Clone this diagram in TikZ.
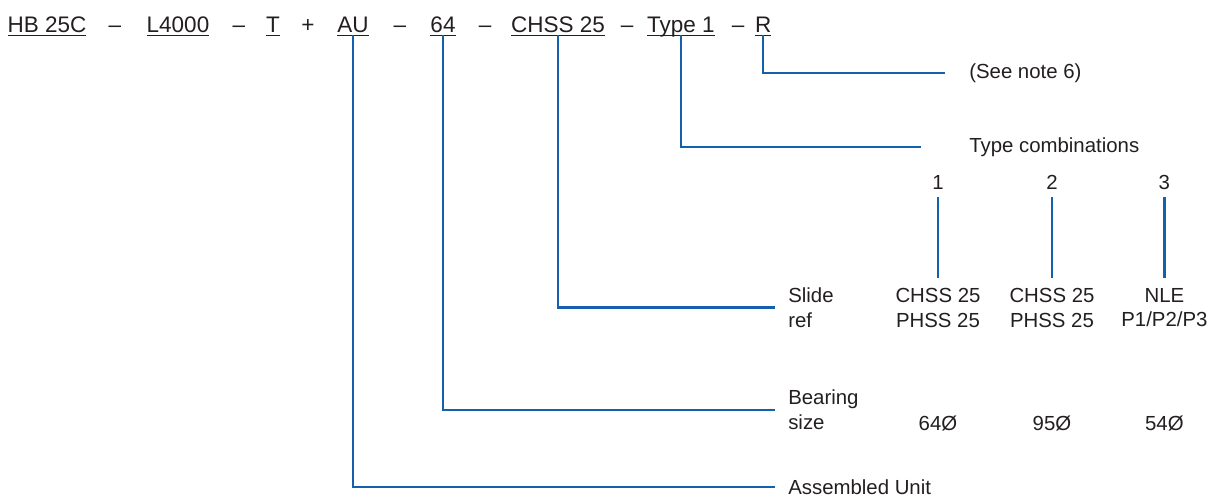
\documentclass[tikz,border=0pt]{standalone}
\usepackage{fontspec}
\setmainfont{Liberation Sans}
\usepackage{xcolor}
\usepackage{tikz}
\usetikzlibrary{calc}
\definecolor{leadblue}{HTML}{1560AC}
\definecolor{ink}{HTML}{231F20}
\tikzset{
  codepart/.style={anchor=base, inner sep=0pt, outer xsep=0pt, outer ysep=0.05cm,
    text depth=0pt, text=ink, font=\fontsize{16}{19}\selectfont},
  sep/.style={anchor=base, inner sep=0pt, text=ink, font=\fontsize{16}{19}\selectfont},
  keylabel/.style={anchor=west, inner sep=0pt, align=left, text=ink,
    font=\fontsize{14.5}{17.7}\selectfont},
  cell/.style={inner sep=0pt, align=center, text=ink, font=\fontsize{14.5}{17.7}\selectfont},
  uline/.style={draw=ink, line width=0.6pt},
  lead/.style={draw=leadblue, line width=1.6pt},
  tick/.style={lead, shorten <=0.2cm, shorten >=0.25cm},
}

\begin{document}
\begin{tikzpicture}
  \useasboundingbox (0,0) rectangle (30.45,-12.425);

  % code string
  \node[codepart] (hb)   at (1.175,-0.825)  {HB 25C};
  \node[sep]             at (2.875,-0.825)  {–};
  \node[codepart] (len)  at (4.45,-0.825)   {L4000};
  \node[sep]             at (5.975,-0.825)  {–};
  \node[codepart] (t)    at (6.825,-0.825)  {T};
  \node[sep]             at (7.7,-0.825)    {+};
  \node[codepart] (au)   at (8.825,-0.825)  {AU};
  \node[sep]             at (10.0,-0.825)   {–};
  \node[codepart] (bore) at (11.075,-0.825) {64};
  \node[sep]             at (12.125,-0.825) {–};
  \node[codepart] (chss) at (13.95,-0.825)  {CHSS 25};
  \node[sep]             at (15.675,-0.825) {–};
  \node[codepart] (typ)  at (17.02,-0.825)  {Type 1};
  \node[sep]             at (18.45,-0.825)  {–};
  \node[codepart] (r)    at (19.08,-0.825)  {R};

  \draw[uline] (hb.south west) -- (hb.south east);
  \draw[uline] (len.south west) -- (len.south east);
  \draw[uline] (t.south west) -- (t.south east);
  \draw[uline] (au.south west) -- (au.south east);
  \draw[uline] (bore.south west) -- (bore.south east);
  \draw[uline] (chss.south west) -- (chss.south east);
  \draw[uline] (typ.south west) -- (typ.south east);
  \draw[uline] (r.south west) -- (r.south east);

  % keys on the right
  \node[keylabel] (note)    at (24.225,-1.825) {(See note 6)};
  \node[keylabel] (combo)   at (24.225,-3.675) {Type combinations};
  \node[keylabel] (slide)   at (19.7,-7.69)    {Slide\\ref};
  \node[keylabel] (bearing) at (19.7,-10.25)   {Bearing\\size};
  \node[keylabel] (unit)    at (19.7,-12.175)  {Assembled Unit};

  \node[cell] (n1) at (23.45,-4.55) {1};
  \node[cell] (n2) at (26.3,-4.55)  {2};
  \node[cell] (n3) at (29.11,-4.55) {3};

  \node[cell] (c1) at (23.45,-7.69) {CHSS 25\\PHSS 25};
  \node[cell] (c2) at (26.3,-7.69)  {CHSS 25\\PHSS 25};
  \node[cell] (c3) at (29.11,-7.69) {NLE\\P1/P2/P3};

  \node[cell] (d1) at (23.45,-10.575) {64Ø};
  \node[cell] (d2) at (26.3,-10.575)  {95Ø};
  \node[cell] (d3) at (29.11,-10.575) {54Ø};

  \draw[tick] (n1) -- (c1);
  \draw[tick] (n2) -- (c2);
  \draw[tick] (n3) -- (c3);

  % leaders
  \draw[lead] (r.south) |- ([xshift=-0.6cm]note.west);
  \draw[lead] (typ.south) |- ([xshift=-1.2cm]combo.west);
  \draw[lead] (chss.south) |- ([xshift=-0.325cm]slide.west);
  \draw[lead] (bore.south) |- ([xshift=-0.325cm]bearing.west);
  \draw[lead] (au.south) |- ([xshift=-0.325cm]unit.west);
\end{tikzpicture}
\end{document}
